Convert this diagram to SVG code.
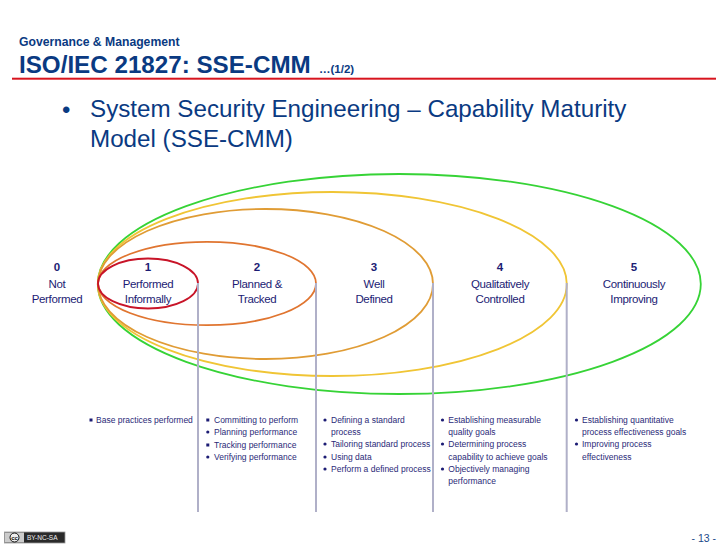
<svg xmlns="http://www.w3.org/2000/svg" width="728" height="546" viewBox="0 0 728 546">
<style>
text{font-family:"Liberation Sans",Arial,sans-serif}
.t{fill:#0a3a82}
.lv{fill:#1c1c74;font-size:11.500px;text-anchor:middle;letter-spacing:-.35px}
.n{font-weight:bold;letter-spacing:0}
.b{fill:#2a2a78;font-size:8.500px}
.e{fill:none;stroke-width:1.800}
.v{stroke:#b0b0c8;stroke-width:2;fill:none}
.d{fill:#1c1c74}
</style>
<rect width="728" height="546" fill="#fff"/>
<g id="header">
<text class="t" x="19" y="46" font-size="12.200" font-weight="bold">Governance &amp; Management</text>
<text class="t" x="19" y="73" font-size="24.200" font-weight="bold">ISO/IEC 21827: SSE-CMM</text>
<text class="t" x="319" y="73" font-size="11.500" font-weight="bold">…(1/2)</text>
<rect x="12" y="77.700" width="704" height="2" fill="#d8141e"/>
</g>
<g id="bullet">
<text class="t" x="62" y="118" font-size="24">•</text>
<text class="t" x="90" y="117" font-size="24.200">System Security Engineering – Capability Maturity</text>
<text class="t" x="90" y="147" font-size="24.200">Model (SSE-CMM)</text>
</g>
<g id="level-5"><ellipse class="e" stroke="#36d336" cx="399.300" cy="284" rx="301.500" ry="110"/>
<text class="lv n" x="634" y="271">5</text><text class="lv" x="634" y="288">Continuously</text><text class="lv" x="634" y="303">Improving</text></g>
<g id="level-4"><ellipse class="e" stroke="#f0c535" cx="332.300" cy="284" rx="234.500" ry="92"/>
<text class="lv n" x="500" y="271">4</text><text class="lv" x="500" y="288">Qualitatively</text><text class="lv" x="500" y="303">Controlled</text></g>
<g id="level-3"><ellipse class="e" stroke="#e09c35" cx="265.500" cy="284" rx="167.500" ry="75"/>
<text class="lv n" x="374" y="271">3</text><text class="lv" x="374" y="288">Well</text><text class="lv" x="374" y="303">Defined</text></g>
<g id="level-2"><ellipse class="e" stroke="#e07530" cx="207" cy="283.500" rx="109" ry="41.700"/>
<text class="lv n" x="257" y="271">2</text><text class="lv" x="257" y="288">Planned &amp;</text><text class="lv" x="257" y="303">Tracked</text></g>
<g id="level-1"><ellipse class="e" stroke="#c81428" cx="148" cy="283.500" rx="50" ry="25"/>
<text class="lv n" x="148" y="271">1</text><text class="lv" x="148" y="288">Performed</text><text class="lv" x="148" y="303">Informally</text></g>
<g id="level-0">
<text class="lv n" x="57" y="271">0</text><text class="lv" x="57" y="288">Not</text><text class="lv" x="57" y="303">Performed</text></g>
<g id="connectors">
<path class="v" d="M198 283V512M316 283V512M433 283V512M566.700 283V512"/>
</g>
<g id="practices-1"><rect class="d" x="89.500" y="418.500" width="3" height="3"/>
<text class="b" x="96" y="423">Base practices performed</text></g>
<g id="practices-2">
<rect class="d" x="206.300" y="418.500" width="3" height="3"/><text class="b" x="214" y="423">Committing to perform</text>
<circle class="d" cx="207.800" cy="432" r="1.600"/><text class="b" x="214" y="435">Planning performance</text>
<rect class="d" x="206.300" y="443.500" width="3" height="3"/><text class="b" x="214" y="448">Tracking performance</text>
<circle class="d" cx="207.800" cy="457" r="1.600"/><text class="b" x="214" y="460">Verifying performance</text></g>
<g id="practices-3">
<circle class="d" cx="325" cy="420" r="1.600"/><text class="b" x="331" y="423">Defining a standard</text>
<text class="b" x="331" y="435">process</text>
<circle class="d" cx="325" cy="444" r="1.600"/><text class="b" x="331" y="447">Tailoring standard process</text>
<circle class="d" cx="325" cy="457" r="1.600"/><text class="b" x="331" y="460">Using data</text>
<circle class="d" cx="325" cy="469" r="1.600"/><text class="b" x="331" y="472">Perform a defined process</text></g>
<g id="practices-4">
<circle class="d" cx="442.500" cy="420" r="1.600"/><text class="b" x="448.300" y="423">Establishing measurable</text>
<text class="b" x="448.300" y="435">quality goals</text>
<circle class="d" cx="442.500" cy="444" r="1.600"/><text class="b" x="448.300" y="447">Determining process</text>
<text class="b" x="448.300" y="460">capability to achieve goals</text>
<circle class="d" cx="442.500" cy="469" r="1.600"/><text class="b" x="448.300" y="472">Objectively managing</text>
<text class="b" x="448.300" y="484">performance</text></g>
<g id="practices-5">
<circle class="d" cx="576.500" cy="420" r="1.600"/><text class="b" x="582" y="423">Establishing quantitative</text>
<text class="b" x="582" y="435">process effectiveness goals</text>
<circle class="d" cx="576.500" cy="444" r="1.600"/><text class="b" x="582" y="447">Improving process</text>
<text class="b" x="582" y="460">effectiveness</text></g>
<g id="footer">
<text x="716" y="542" font-size="10.500" fill="#1c4a8a" text-anchor="end">- 13 -</text>
<rect x="4.500" y="532" width="60.500" height="11" fill="#2a2a2a" stroke="#999" stroke-width=".8"/>
<rect x="5" y="532.500" width="19" height="10" fill="#ccc"/>
<circle cx="14.500" cy="537.500" r="4.500" fill="#eee" stroke="#111"/>
<text x="14.500" y="540" font-size="6" font-weight="bold" fill="#111" text-anchor="middle">cc</text>
<text x="27" y="540" font-size="6.500" fill="#eee">BY-NC-SA</text>
</g>
</svg>
